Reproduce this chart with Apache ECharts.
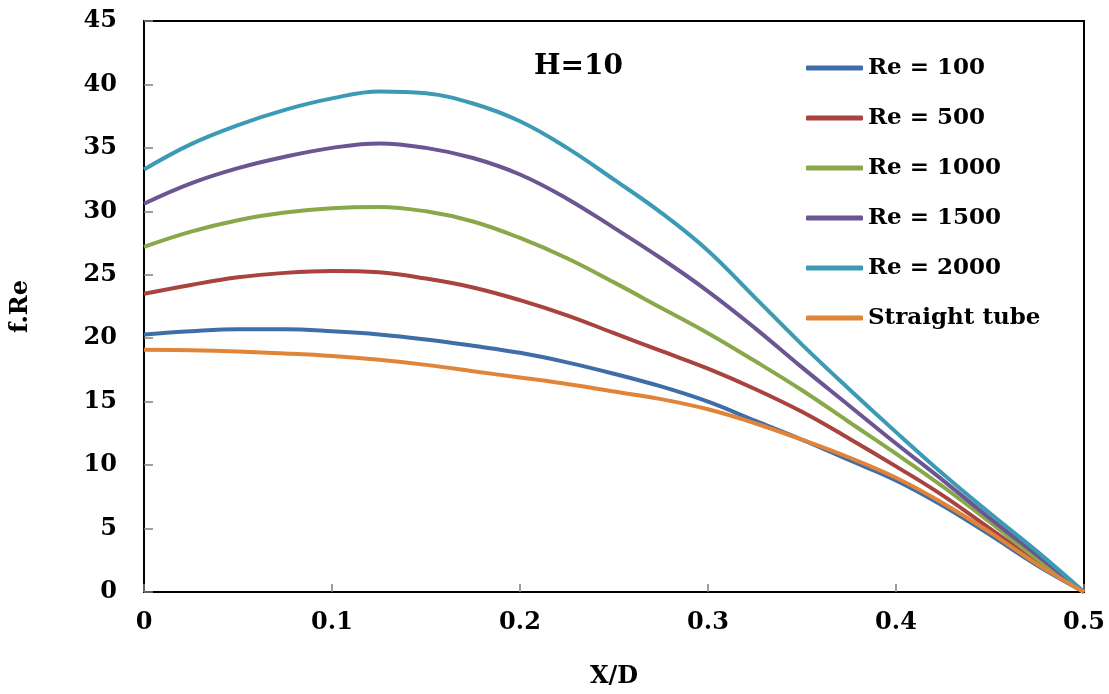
<!DOCTYPE html>
<html>
<head>
<meta charset="utf-8">
<script src="https://cdn.jsdelivr.net/npm/echarts@6/dist/echarts.min.js"></script>
<style>
html,body{margin:0;padding:0;background:#fff;}
#c{width:1109px;height:694px;}
</style>
</head>
<body>
<div id="c"></div>
<script>
const xPos = [0,0.025,0.05,0.075,0.1,0.125,0.15,0.175,0.2,0.225,0.25,0.275,0.3,0.325,0.35,0.375,0.4,0.425,0.45,0.475,0.5];
const re100 = [20.3,20.55,20.7,20.7,20.55,20.3,19.9,19.4,18.85,18.1,17.2,16.2,15.0,13.5,12.0,10.4,8.8,6.8,4.5,2.1,0];
const re500 = [23.5,24.2,24.8,25.15,25.3,25.2,24.7,24.0,23.0,21.8,20.4,19.0,17.6,16.0,14.2,12.1,9.9,7.6,5.0,2.4,0];
const re1000 = [27.2,28.4,29.3,29.9,30.25,30.35,30.0,29.2,27.9,26.3,24.4,22.4,20.4,18.2,15.9,13.4,10.9,8.3,5.5,2.6,0];
const re1500 = [30.6,32.2,33.4,34.3,35.0,35.35,35.0,34.2,32.9,31.0,28.7,26.3,23.7,20.8,17.7,14.7,11.7,8.8,5.8,2.9,0];
const re2000 = [33.3,35.3,36.8,38.0,38.9,39.45,39.3,38.5,37.1,35.0,32.5,29.9,26.9,23.2,19.5,16.0,12.6,9.3,6.2,3.2,0];
const straight = [19.1,19.05,18.95,18.8,18.6,18.3,17.9,17.4,16.9,16.4,15.8,15.2,14.4,13.3,12.0,10.6,9.0,7.0,4.7,2.2,0];
const seriesNames = ['Re = 100','Re = 500','Re = 1000','Re = 1500','Re = 2000','Straight tube'];
const seriesData = [re100, re500, re1000, re1500, re2000, straight];
const colors = ['#3E6DA8','#A8433F','#89A84A','#6B5592','#3C9AB4','#E0843A'];

const FONT = '"DejaVu Serif", "Liberation Serif", serif';
const chart = echarts.init(document.getElementById('c'));
chart.setOption({
  backgroundColor: '#fff',
  animation: false,
  color: colors,
  grid: {left: 144, right: 25, top: 21, bottom: 98, show: true, borderColor: '#000', borderWidth: 2},
  legend: {
    orient: 'vertical', left: 806, top: 55, padding: 0,
    icon: 'roundRect', itemWidth: 57, itemHeight: 5, itemGap: 24,
    textStyle: {fontFamily: FONT, fontWeight: 'bold', fontSize: 23, color: '#000', lineHeight: 26},
    data: seriesNames
  },
  graphic: [{
    type: 'text', left: 534, top: 53,
    style: {text: 'H=10', fontFamily: FONT, fontWeight: 'bold', fontSize: 28, fill: '#000'}
  }],
  xAxis: {
    type: 'value', min: 0, max: 0.5, interval: 0.1,
    name: 'X/D', nameLocation: 'middle', nameGap: 73,
    nameTextStyle: {fontFamily: FONT, fontWeight: 'bold', fontSize: 24, color: '#000'},
    axisLine: {lineStyle: {color: '#000', width: 2}},
    axisTick: {inside: true, length: 8, lineStyle: {color: '#808080', width: 1.5}},
    axisLabel: {margin: 19, fontFamily: FONT, fontWeight: 'bold', fontSize: 24, color: '#000'},
    splitLine: {show: false}
  },
  yAxis: {
    type: 'value', min: 0, max: 45, interval: 5,
    name: 'f.Re', nameLocation: 'middle', nameGap: 111, nameRotate: 90,
    nameTextStyle: {fontFamily: FONT, fontWeight: 'bold', fontSize: 24, color: '#000'},
    axisLine: {lineStyle: {color: '#000', width: 2}},
    axisTick: {inside: true, length: 9, lineStyle: {color: '#808080', width: 1.5}},
    axisLabel: {margin: 27, fontFamily: FONT, fontWeight: 'bold', fontSize: 24, color: '#000'},
    splitLine: {show: false}
  },
  series: seriesNames.map((n, i) => ({
    name: n, type: 'line', smooth: 0.4, showSymbol: false, symbol: 'none',
    lineStyle: {width: 4, color: colors[i]},
    itemStyle: {color: colors[i]},
    data: xPos.map((x, j) => [x, seriesData[i][j]])
  }))
});
</script>
</body>
</html>
